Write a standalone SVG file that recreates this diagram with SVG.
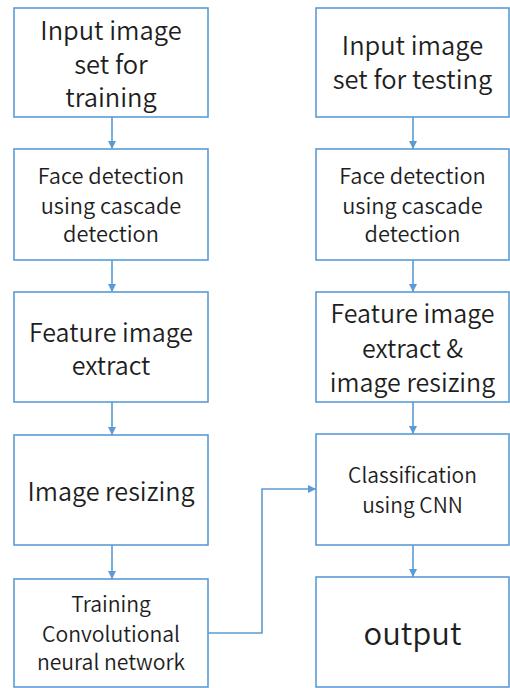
<svg xmlns="http://www.w3.org/2000/svg" width="510" height="688" viewBox="0 0 510 688">
  <style>
    .box { fill: #ffffff; stroke: #5B9BD5; stroke-width: 1.6; }
    .lbl { font-family: "Noto Sans CJK KR", "Noto Sans", sans-serif; fill: #1e1e1e; text-anchor: middle; font-weight: 350; }
    .wire { fill: none; stroke: #5B9BD5; stroke-width: 1.6; }
  </style>
  <defs>
    <marker id="arrow" viewBox="0 0 10 10" refX="10" refY="5" markerWidth="8" markerHeight="8" markerUnits="userSpaceOnUse" orient="auto">
      <path d="M0,0 L10,5 L0,10 z" fill="#5B9BD5"/>
    </marker>
  </defs>
  <rect width="510" height="688" fill="#ffffff"/>

  <!-- training column -->
  <g id="train-input">
    <rect class="box" x="14" y="8" width="194" height="109"/>
    <text class="lbl" font-size="25.5" x="111" y="40">Input image</text>
    <text class="lbl" font-size="25.5" x="111" y="74">set for</text>
    <text class="lbl" font-size="25.5" x="111" y="107">training</text>
  </g>
  <g id="train-face">
    <rect class="box" x="14" y="149" width="194" height="111"/>
    <text class="lbl" font-size="21.8" x="111" y="184">Face detection</text>
    <text class="lbl" font-size="21.8" x="111" y="214">using cascade</text>
    <text class="lbl" font-size="21.8" x="111" y="242">detection</text>
  </g>
  <g id="train-feature">
    <rect class="box" x="14" y="292" width="194" height="110"/>
    <text class="lbl" font-size="25" x="111" y="342">Feature image</text>
    <text class="lbl" font-size="25" x="111" y="375">extract</text>
  </g>
  <g id="train-resize">
    <rect class="box" x="14" y="435" width="194" height="110"/>
    <text class="lbl" font-size="25.2" x="111" y="501">Image resizing</text>
  </g>
  <g id="train-cnn">
    <rect class="box" x="14" y="579" width="194" height="108"/>
    <text class="lbl" font-size="21.2" x="111" y="612">Training</text>
    <text class="lbl" font-size="21.2" x="111" y="642">Convolutional</text>
    <text class="lbl" font-size="21.2" x="111" y="670">neural network</text>
  </g>

  <!-- testing column -->
  <g id="test-input">
    <rect class="box" x="316" y="8" width="193" height="109"/>
    <text class="lbl" font-size="25.5" x="412.5" y="55">Input image</text>
    <text class="lbl" font-size="25.5" x="412.5" y="89">set for testing</text>
  </g>
  <g id="test-face">
    <rect class="box" x="316" y="149" width="193" height="111"/>
    <text class="lbl" font-size="21.8" x="412.5" y="184">Face detection</text>
    <text class="lbl" font-size="21.8" x="412.5" y="214">using cascade</text>
    <text class="lbl" font-size="21.8" x="412.5" y="242">detection</text>
  </g>
  <g id="test-feature">
    <rect class="box" x="316" y="292" width="193" height="110"/>
    <text class="lbl" font-size="25" x="412.5" y="323">Feature image</text>
    <text class="lbl" font-size="25" x="412.5" y="358">extract &amp;</text>
    <text class="lbl" font-size="25" x="412.5" y="392">image resizing</text>
  </g>
  <g id="test-classify">
    <rect class="box" x="316" y="434" width="193" height="111"/>
    <text class="lbl" font-size="21" x="412.5" y="483">Classification</text>
    <text class="lbl" font-size="21" x="412.5" y="513">using CNN</text>
  </g>
  <g id="test-output">
    <rect class="box" x="316" y="577" width="193" height="110"/>
    <text class="lbl" font-size="31" font-weight="400" fill="#111111" x="412.5" y="645">output</text>
  </g>

  <!-- connectors -->
  <g id="connectors">
    <path class="wire" d="M112,117 V149" marker-end="url(#arrow)"/>
    <path class="wire" d="M112,260 V292" marker-end="url(#arrow)"/>
    <path class="wire" d="M112,402 V435" marker-end="url(#arrow)"/>
    <path class="wire" d="M112,545 V579" marker-end="url(#arrow)"/>
    <path class="wire" d="M413,117 V149" marker-end="url(#arrow)"/>
    <path class="wire" d="M413,260 V292" marker-end="url(#arrow)"/>
    <path class="wire" d="M413,402 V434" marker-end="url(#arrow)"/>
    <path class="wire" d="M413,545 V577" marker-end="url(#arrow)"/>
    <path class="wire" d="M208,633 H262 V489 H316" marker-end="url(#arrow)"/>
  </g>
</svg>
